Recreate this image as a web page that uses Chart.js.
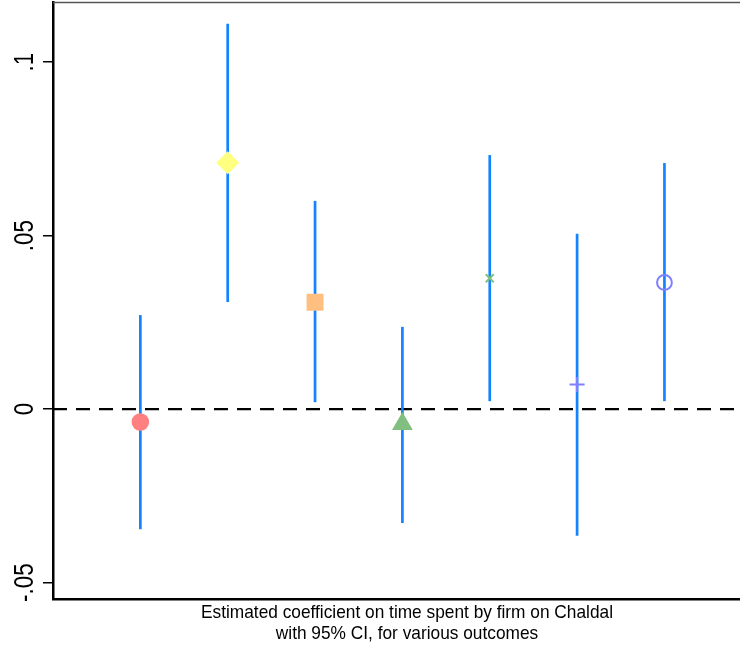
<!DOCTYPE html>
<html>
<head>
<meta charset="utf-8">
<script src="https://cdn.jsdelivr.net/npm/chart.js@4"></script>
<style>
  html, body { margin: 0; padding: 0; background: #fff; }
  #wrap { width: 740px; height: 648px; }
</style>
</head>
<body>
<div id="wrap"><canvas id="coefplot"></canvas></div>
<script>
// outcomes in plotting order, coefficients and 95% CI bounds
var outcomes = [1, 2, 3, 4, 5, 6, 7];
var coef   = [-0.0037, 0.0710, 0.0308, -0.0043, 0.0377, 0.0071, 0.0365];
var ciLow  = [-0.0346, 0.0309, 0.0020, -0.0328, 0.0023, -0.0365, 0.0023];
var ciHigh = [0.0271, 0.1110, 0.0600, 0.0237, 0.0732, 0.0505, 0.0709];

var yTicks = [-0.05, 0, 0.05, 0.1];
var yTickLabels = ["-.05", "0", ".05", ".1"];

var xTitle = ["Estimated coefficient on time spent by firm on Chaldal",
              "with 95% CI, for various outcomes"];

// marker look per outcome
var markerShape = ["circle", "rectRot", "rect", "triangle", "crossRot", "cross", "circle"];
var markerSize  = [8.8, 11.5, 12, 12, 5.6, 7.5, 7.4];
var markerColor = ["#ff8080", "#ffff80", "#ffbf80", "#80bf80", "#80bf80", "#8080ff", "#8080ff"];
var markerFill  = [true, true, true, true, false, false, false];
var markerLine  = [0, 0, 0, 0, 2, 2.2, 2];

var ciColor = "#1483ff";

var datasets = [];

outcomes.forEach(function(o, i) {
  datasets.push({
    data: [{ x: o, y: coef[i] }],
    pointStyle: markerShape[i],
    pointRadius: markerSize[i],
    pointHoverRadius: markerSize[i],
    backgroundColor: markerFill[i] ? markerColor[i] : "rgba(0,0,0,0)",
    borderColor: markerColor[i],
    pointBorderWidth: markerLine[i],
    borderWidth: markerLine[i],
    showLine: false,
    order: 0
  });
  datasets.push({
    data: [{ x: o, y: ciLow[i] }, { x: o, y: ciHigh[i] }],
    showLine: true,
    borderColor: ciColor,
    borderWidth: 2.7,
    pointRadius: 0,
    order: 1
  });
});

// dashed zero reference line
datasets.push({
  data: [{ x: 0, y: 0 }, { x: 7.87, y: 0 }],
  showLine: true,
  borderColor: "#000",
  borderWidth: 2.4,
  borderDash: [14, 9],
  pointRadius: 0,
  order: 2
});

var decorations = {
  id: "decorations",
  afterDraw: function(chart) {
    var ctx = chart.ctx;
    var area = chart.chartArea;
    var yScale = chart.scales.y;

    ctx.save();
    // thin outline on top of the plot region
    ctx.strokeStyle = "#555";
    ctx.lineWidth = 1.5;
    ctx.beginPath();
    ctx.moveTo(area.left, area.top + 0.5);
    ctx.lineTo(area.right, area.top + 0.5);
    ctx.stroke();

    // rotated tick labels
    ctx.fillStyle = "#000";
    ctx.font = "28px 'Liberation Sans', Arial, sans-serif";
    ctx.textAlign = "center";
    ctx.textBaseline = "alphabetic";
    yTicks.forEach(function(v, i) {
      var py = yScale.getPixelForValue(v);
      ctx.save();
      ctx.translate(33.3, py);
      ctx.rotate(-Math.PI / 2);
      ctx.scale(0.8, 1);
      ctx.fillText(yTickLabels[i], 0, 0);
      ctx.restore();
    });

    // axis title, two lines
    ctx.font = "19px 'Liberation Sans', Arial, sans-serif";
    var w0 = ctx.measureText(xTitle[0]).width;
    var squeeze = 412 / w0;
    var baselines = [618, 638.5];
    xTitle.forEach(function(t, i) {
      ctx.save();
      ctx.translate(407, baselines[i]);
      ctx.scale(squeeze, 1);
      ctx.fillText(t, 0, 0);
      ctx.restore();
    });
    ctx.restore();
  }
};

var chart = new Chart(document.getElementById("coefplot").getContext("2d"), {
  type: "scatter",
  data: { datasets: datasets },
  options: {
    responsive: true,
    maintainAspectRatio: false,
    animation: false,
    events: [],
    layout: { autoPadding: false, padding: { top: 2, right: 0, bottom: 0, left: 0 } },
    plugins: {
      legend: { display: false },
      tooltip: { enabled: false }
    },
    scales: {
      x: {
        type: "linear",
        min: 0,
        max: 7.865,
        ticks: { display: false },
        grid: { display: false, drawTicks: false },
        border: { display: true, color: "#000", width: 2.5 },
        afterFit: function(scale) { scale.height = 49; }
      },
      y: {
        type: "linear",
        min: -0.0547,
        max: 0.1173,
        afterBuildTicks: function(scale) {
          scale.ticks = yTicks.map(function(v) { return { value: v }; });
        },
        ticks: { display: false },
        grid: { drawOnChartArea: false, drawTicks: true, tickLength: 10, color: "#000", lineWidth: 1.5 },
        border: { display: true, color: "#000", width: 2.5 },
        afterFit: function(scale) { scale.width = 53; }
      }
    }
  },
  plugins: [decorations]
});
</script>
</body>
</html>
